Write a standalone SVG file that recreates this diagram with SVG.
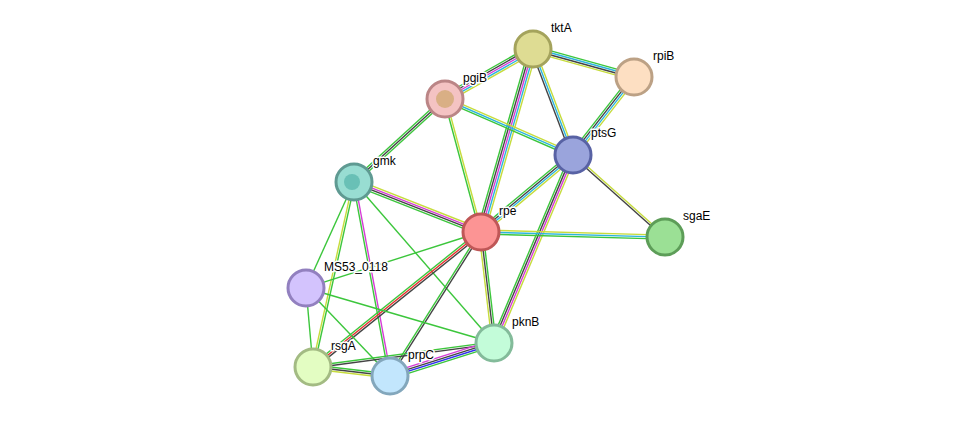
<svg xmlns="http://www.w3.org/2000/svg" width="975" height="422" viewBox="0 0 975 422">
<style>
line{stroke-width:1.4;fill:none}
.g{stroke:#3cc63c}.b{stroke:#2cb5de}.m{stroke:#d63cd6}.d{stroke:#444}.y{stroke:#c6dc3c}.r{stroke:#e83030}.u{stroke:#3030f0}
circle{stroke-width:3}
text{font-family:"Liberation Sans",Arial,sans-serif;font-size:12px;fill:#000;stroke:#fff;stroke-width:3;paint-order:stroke;stroke-linejoin:round}
</style>
<rect width="975" height="422" fill="#fff"/>
<g id="edges">
<g transform="translate(533,49) rotate(15.5)"><line class="g" x2="104.8" y1="-3" y2="-3"/><line class="b" x2="104.8" y1="-1" y2="-1"/><line class="d" x2="104.8" y1="1" y2="1"/><line class="y" x2="104.8" y1="3" y2="3"/></g>
<g transform="translate(533,49) rotate(150.4)"><line class="y" x2="101.2" y1="-4" y2="-4"/><line class="b" x2="101.2" y1="-2" y2="-2"/><line class="m" x2="101.2" y1="0" y2="0"/><line class="d" x2="101.2" y1="2" y2="2"/><line class="g" x2="101.2" y1="4" y2="4"/></g>
<g transform="translate(533,49) rotate(69.3)"><line class="d" x2="113.3" y1="2" y2="2"/><line class="b" x2="113.3" y1="0" y2="0"/><line class="y" x2="113.3" y1="-2" y2="-2"/></g>
<g transform="translate(533,49) rotate(105.9)"><line class="y" x2="190.2" y1="-4" y2="-4"/><line class="b" x2="190.2" y1="-2" y2="-2"/><line class="m" x2="190.2" y1="0" y2="0"/><line class="d" x2="190.2" y1="2" y2="2"/><line class="g" x2="190.2" y1="4" y2="4"/></g>
<g transform="translate(445,99) rotate(23.6)"><line class="y" x2="139.7" y1="-2" y2="-2"/><line class="b" x2="139.7" y1="0" y2="0"/><line class="g" x2="139.7" y1="2" y2="2"/></g>
<g transform="translate(445,99) rotate(74.9)"><line class="y" x2="137.8" y1="-1" y2="-1"/><line class="g" x2="137.8" y1="1" y2="1"/></g>
<g transform="translate(445,99) rotate(137.6)"><line class="g" x2="123.2" y1="-2" y2="-2"/><line class="d" x2="123.2" y1="0" y2="0"/><line class="g" x2="123.2" y1="2" y2="2"/></g>
<g transform="translate(634,77) rotate(128)"><line class="y" x2="99" y1="-3" y2="-3"/><line class="b" x2="99" y1="-1" y2="-1"/><line class="d" x2="99" y1="1" y2="1"/><line class="g" x2="99" y1="3" y2="3"/></g>
<g transform="translate(573,155) rotate(140.1)"><line class="y" x2="120" y1="-3" y2="-3"/><line class="b" x2="120" y1="-1" y2="-1"/><line class="d" x2="120" y1="1" y2="1"/><line class="g" x2="120" y1="3" y2="3"/></g>
<g transform="translate(573,155) rotate(41.7)"><line class="y" x2="123.2" y1="-1" y2="-1"/><line class="d" x2="123.2" y1="1" y2="1"/></g>
<g transform="translate(573,155) rotate(112.8)"><line class="y" x2="203.9" y1="-3" y2="-3"/><line class="m" x2="203.9" y1="-1" y2="-1"/><line class="d" x2="203.9" y1="1" y2="1"/><line class="g" x2="203.9" y1="3" y2="3"/></g>
<g transform="translate(481,232) rotate(1.6)"><line class="y" x2="184.1" y1="-2" y2="-2"/><line class="b" x2="184.1" y1="0" y2="0"/><line class="g" x2="184.1" y1="2" y2="2"/></g>
<g transform="translate(354,182) rotate(21.5)"><line class="y" x2="136.5" y1="-3" y2="-3"/><line class="m" x2="136.5" y1="-1" y2="-1"/><line class="d" x2="136.5" y1="1" y2="1"/><line class="g" x2="136.5" y1="3" y2="3"/></g>
<g transform="translate(354,182) rotate(114.4)"><line class="g" x2="116.4"/></g>
<g transform="translate(354,182) rotate(102.5)"><line class="g" x2="189.5" y1="-1" y2="-1"/><line class="y" x2="189.5" y1="1" y2="1"/></g>
<g transform="translate(354,182) rotate(79.5)"><line class="m" x2="197.3" y1="-1" y2="-1"/><line class="g" x2="197.3" y1="1" y2="1"/></g>
<g transform="translate(354,182) rotate(49)"><line class="g" x2="213.4"/></g>
<g transform="translate(481,232) rotate(162.3)"><line class="g" x2="183.7"/></g>
<g transform="translate(481,232) rotate(141.2)"><line class="d" x2="215.5" y1="-2" y2="-2"/><line class="r" x2="215.5" y1="0" y2="0"/><line class="g" x2="215.5" y1="2" y2="2"/></g>
<g transform="translate(481,232) rotate(122.3)"><line class="d" x2="170.3" y1="-1" y2="-1"/><line class="g" x2="170.3" y1="1" y2="1"/></g>
<g transform="translate(481,232) rotate(83.3)"><line class="g" x2="111.8" y1="-2" y2="-2"/><line class="d" x2="111.8" y1="0" y2="0"/><line class="y" x2="111.8" y1="2" y2="2"/></g>
<g transform="translate(306,288) rotate(84.9)"><line class="g" x2="79.3"/></g>
<g transform="translate(306,288) rotate(46.3)"><line class="g" x2="121.7"/></g>
<g transform="translate(306,288) rotate(16.3)"><line class="g" x2="195.9"/></g>
<g transform="translate(313,367) rotate(6.7)"><line class="g" x2="77.5" y1="-2" y2="-2"/><line class="d" x2="77.5" y1="0" y2="0"/><line class="y" x2="77.5" y1="2" y2="2"/></g>
<g transform="translate(313,367) rotate(-7.6)"><line class="g" x2="182.6" y1="-1" y2="-1"/><line class="d" x2="182.6" y1="1" y2="1"/></g>
<g transform="translate(390,376) rotate(-17.6)"><line class="m" x2="109.1" y1="-3" y2="-3"/><line class="d" x2="109.1" y1="-1" y2="-1"/><line class="u" x2="109.1" y1="1" y2="1"/><line class="g" x2="109.1" y1="3" y2="3"/></g>
</g>
<g id="tktA"><circle cx="533" cy="49" r="18" fill="#dedc93" stroke="#a4a35c"/><text x="551" y="32">tktA</text></g>
<g id="rpiB"><circle cx="634" cy="77" r="18" fill="#fddfc2" stroke="#bca185"/><text x="653" y="60">rpiB</text></g>
<g id="pgiB"><circle cx="445" cy="99" r="18" fill="#f4c3c3" stroke="#bb8586"/><circle cx="445" cy="99" r="9" fill="#c7a25c" stroke="none" opacity="0.6"/><text x="463" y="82">pgiB</text></g>
<g id="ptsG"><circle cx="573" cy="155" r="18" fill="#9aa4dc" stroke="#5862a4"/><text x="591" y="137">ptsG</text></g>
<g id="gmk"><circle cx="354" cy="182" r="18" fill="#98ddd2" stroke="#5f9a92"/><circle cx="352" cy="182" r="8" fill="#3aa49a" stroke="none" opacity="0.5"/><text x="373" y="165">gmk</text></g>
<g id="rpe"><circle cx="481" cy="232" r="18" fill="#fc9494" stroke="#bf5757"/><text x="499" y="215">rpe</text></g>
<g id="sgaE"><circle cx="665" cy="237" r="18" fill="#9be095" stroke="#5d9d58"/><text x="683" y="220">sgaE</text></g>
<g id="MS53_0118"><circle cx="306" cy="288" r="18" fill="#d3c3fd" stroke="#9280bf"/><text x="324" y="271">MS53_0118</text></g>
<g id="pknB"><circle cx="494" cy="343" r="18" fill="#c3fcd9" stroke="#83bb9a"/><text x="512" y="326">pknB</text></g>
<g id="rsgA"><circle cx="313" cy="367" r="18" fill="#e3fdc2" stroke="#a3bb83"/><text x="331" y="350">rsgA</text></g>
<g id="prpC"><circle cx="390" cy="376" r="18" fill="#c2e6fd" stroke="#83a7bc"/><text x="408" y="359">prpC</text></g>
</svg>
